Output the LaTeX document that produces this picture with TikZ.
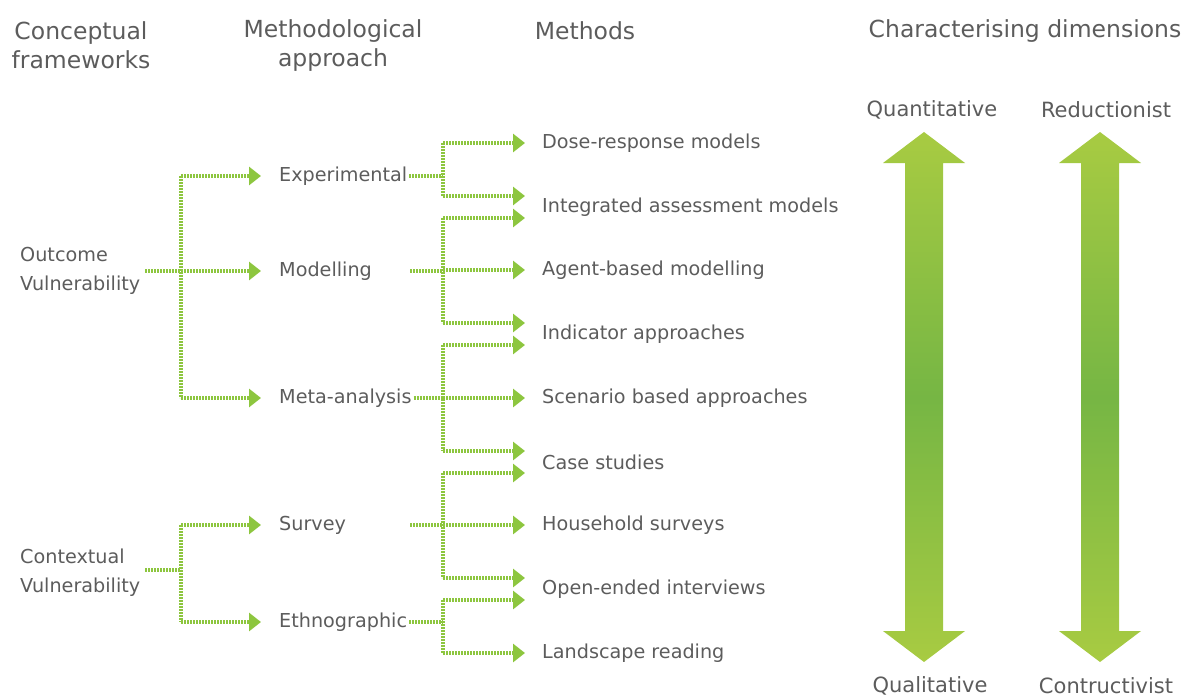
\documentclass[tikz,border=0pt]{standalone}
\usepackage{fontspec}
\setmainfont{DejaVu Sans}
\usetikzlibrary{arrows.meta}
\definecolor{leaf}{RGB}{141,198,63}
\definecolor{leafdark}{RGB}{118,182,68}
\definecolor{leaflight}{RGB}{168,203,66}
\definecolor{ink}{RGB}{92,92,92}
\tikzset{>={Triangle[length=12pt,width=18pt]}}

\begin{document}
\begin{tikzpicture}[x=1pt,y=-1pt,
  head/.style={text=ink,font=\fontsize{23.5}{29}\selectfont,align=center,inner sep=0pt},
  item/.style={text=ink,font=\fontsize{19.2}{29}\selectfont,anchor=west,inner sep=0pt},
  frame/.style={item,align=left},
  dim/.style={text=ink,font=\fontsize{21}{29}\selectfont,inner sep=0pt},
  link/.style={leaf,line width=3.4pt,dash pattern=on 2pt off 1pt},
  tip/.style={link,->,shorten >=17pt},
  bigarrow/.style={top color=leaflight,bottom color=leaflight,middle color=leafdark}]

\useasboundingbox (0,0) rectangle (1188,698);

% column headings
\path (81,45.5) node [head] (h1) {Conceptual\\frameworks};
\path (333,45.5) node [head] (h2) {Methodological\\approach};
\path (585,31) node [head] (h3) {Methods};
\path (1025,31) node [head] (h4) {Characterising dimensions};

% frameworks
\path (20,271) node [frame] (oc) {Outcome\\Vulnerability};
\path (20,573) node [frame] (cx) {Contextual\\Vulnerability};

% approaches
\path (279,176) node [item] (ex) {Experimental};
\path (279,271) node [item] (mo) {Modelling};
\path (279,398) node [item] (ma) {Meta-analysis};
\path (279,525) node [item] (sv) {Survey};
\path (279,622) node [item] (et) {Ethnographic};

% methods
\path (542,143) node [item] (ds) {Dose-response models};
\path (542,207) node [item] (ia) {Integrated assessment models};
\path (542,270) node [item] (ab) {Agent-based modelling};
\path (542,334) node [item] (ind) {Indicator approaches};
\path (542,398) node [item] (sc) {Scenario based approaches};
\path (542,462) node [item] (cs) {Case studies};
\path (542,525) node [item] (hh) {Household surveys};
\path (542,589) node [item] (oe) {Open-ended interviews};
\path (542,653) node [item] (lr) {Landscape reading};

% arrow ends above / below shared methods
\foreach \m in {ia,ind,cs,oe} {
  \coordinate (\m-a) at ([yshift=11pt]\m.west);
  \coordinate (\m-b) at ([yshift=-11pt]\m.west);
}

% branch points
\coordinate (oi) at (145,271);
\coordinate (ob) at (181,271);
\coordinate (ci) at (145,570);
\coordinate (cb) at (181,570);
\coordinate (xb) at (443,176);
\coordinate (mi) at (410,271);
\coordinate (mb) at (443,271);
\coordinate (tb) at (443,398);
\coordinate (si) at (410,525);
\coordinate (sb) at (443,525);
\coordinate (eb) at (443,622);

% frameworks -> approaches
\draw[link] (oi) -- (ob);
\draw[link] (ob |- ex) -- (ob |- ma);
\foreach \a in {ex,mo,ma} \draw[tip,shorten >=18pt] (ob |- \a) -- (\a.west);
\draw[link] (ci) -- (cb);
\draw[link] (cb |- sv) -- (cb |- et);
\foreach \a in {sv,et} \draw[tip,shorten >=18pt] (cb |- \a) -- (\a.west);

% approaches -> methods
\draw[link,shorten <=2pt] (ex.east) -- (xb);
\draw[link] (xb |- ds) -- (xb |- ia-a);
\draw[tip] (xb |- ds) -- (ds.west);
\draw[tip] (xb |- ia-a) -- (ia-a);

\draw[link] (mi) -- (mb);
\draw[link] (mb |- ia-b) -- (mb |- ind-a);
\foreach \t in {ia-b,ab.west,ind-a} \draw[tip] (mb |- \t) -- (\t);

\draw[link,shorten <=2pt] (ma.east) -- (tb);
\draw[link] (tb |- ind-b) -- (tb |- cs-a);
\foreach \t in {ind-b,sc.west,cs-a} \draw[tip] (tb |- \t) -- (\t);

\draw[link] (si) -- (sb);
\draw[link] (sb |- cs-b) -- (sb |- oe-a);
\foreach \t in {cs-b,hh.west,oe-a} \draw[tip] (sb |- \t) -- (\t);

\draw[link,shorten <=2pt] (et.east) -- (eb);
\draw[link] (eb |- oe-b) -- (eb |- lr);
\foreach \t in {oe-b,lr.west} \draw[tip] (eb |- \t) -- (\t);

% characterising dimensions
\shade[bigarrow] (924,132) -- (965,163) -- (943,163) -- (943,631) -- (965,631) -- (924,662)
  -- (883,631) -- (905,631) -- (905,163) -- (883,163) -- cycle;
\shade[bigarrow] (1100,132) -- (1141,163) -- (1119,163) -- (1119,631) -- (1141,631) -- (1100,662)
  -- (1059,631) -- (1081,631) -- (1081,163) -- (1059,163) -- cycle;
\path (932,110) node [dim] (qn) {Quantitative};
\path (1106,110) node [dim] (rd) {Reductionist};
\path (930,686) node [dim] (ql) {Qualitative};
\path (1106,686) node [dim] (ct) {Contructivist};

\end{tikzpicture}
\end{document}
